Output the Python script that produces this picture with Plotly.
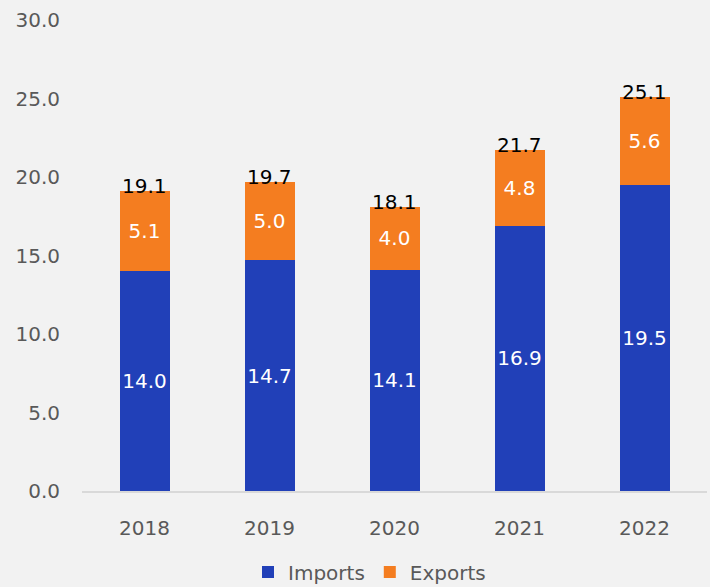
import plotly.graph_objects as go

years = ["2018", "2019", "2020", "2021", "2022"]
imports = [14.0, 14.7, 14.1, 16.9, 19.5]
exports = [5.1, 5.0, 4.0, 4.8, 5.6]
totals = [19.1, 19.7, 18.1, 21.7, 25.1]

BLUE = "#2140B8"
ORANGE = "#F47D20"
GRAY = "#595959"
FONT = "DejaVu Sans, sans-serif"
SIZE = 20

fig = go.Figure()
fig.add_trace(go.Bar(
    x=years, y=imports, name="Imports",
    marker=dict(color=BLUE, line=dict(width=0)),
    text=[f"{v:.1f}" for v in imports],
    textposition="inside", insidetextanchor="middle", textangle=0,
    textfont=dict(color="white", size=SIZE, family=FONT),
    hoverinfo="skip",
))
fig.add_trace(go.Bar(
    x=years, y=exports, name="Exports",
    marker=dict(color=ORANGE, line=dict(width=0)),
    text=[f"{v:.1f}" for v in exports],
    textposition="inside", insidetextanchor="middle", textangle=0,
    textfont=dict(color="white", size=SIZE, family=FONT),
    hoverinfo="skip",
))

# totals above each stack (category index, since the year strings look numeric)
for i, t in enumerate(totals):
    fig.add_annotation(
        x=i, y=t, text=f"{t:.1f}", showarrow=False,
        yanchor="middle", yshift=5,
        font=dict(color="black", size=SIZE, family=FONT),
    )

fig.update_layout(
    barmode="stack",
    bargap=0.6,
    width=710, height=587,
    paper_bgcolor="#F2F2F2",
    plot_bgcolor="#F2F2F2",
    margin=dict(l=82, r=3, t=20, b=96, autoexpand=False),
    font=dict(family=FONT, color=GRAY, size=SIZE),
    uniformtext=dict(minsize=SIZE, mode="show"),
    legend=dict(
        orientation="h", x=0.46, xanchor="center", y=-0.172, yanchor="middle",
        font=dict(size=SIZE, color=GRAY), traceorder="normal",
    ),
    xaxis=dict(
        type="category", range=[-0.5, 4.5],
        showgrid=False, showline=True, linecolor="#D9D9D9", linewidth=2,
        ticks="outside", ticklen=18, tickcolor="rgba(0,0,0,0)",
        tickfont=dict(size=SIZE, color=GRAY),
    ),
    yaxis=dict(
        range=[0, 30], dtick=5, tickformat=".1f", showgrid=False,
        zeroline=False, showline=False, ticks="outside", ticklen=17,
        tickcolor="rgba(0,0,0,0)", tickfont=dict(size=SIZE, color=GRAY),
    ),
)

fig.write_html(
    "out.html",
    config={"displayModeBar": False},
    post_script="document.body.style.margin='0';",
)
